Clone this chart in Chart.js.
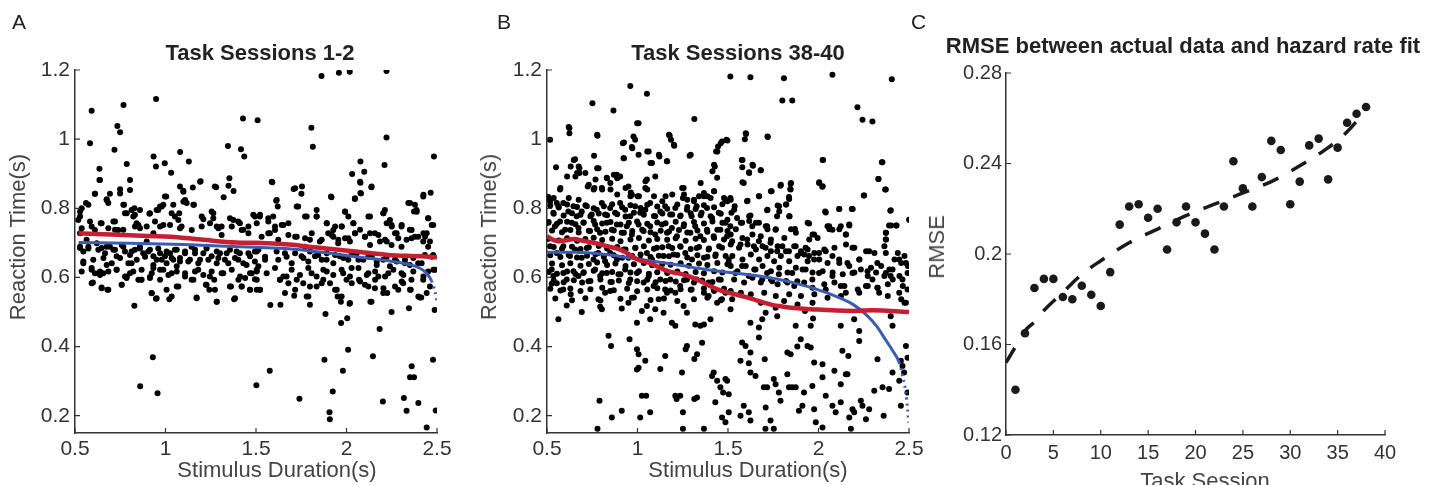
<!DOCTYPE html>
<html>
<head>
<meta charset="utf-8">
<script src="https://cdn.jsdelivr.net/npm/chart.js@4.4.0/dist/chart.umd.min.js"></script>
<style>
  html, body { margin: 0; padding: 0; background: #fff; }
  #fig { position: relative; width: 1442px; height: 485px; overflow: hidden; font-family: "Liberation Sans", Arial, sans-serif; }
  .panel { position: absolute; top: 0; height: 485px; }
  .txt { position: absolute; white-space: nowrap; line-height: 1; }
  .letter { font-size: 21px; color: #222; }
  .title { font-size: 22px; font-weight: bold; color: #222; transform: translateX(-50%); }
  .xlab { font-size: 22px; color: #444; transform: translateX(-50%); }
  .ylab { font-size: 22px; color: #444; transform: translate(-50%, -50%) rotate(-90deg); }
</style>
</head>
<body>
<div id="fig">
  <div class="panel" style="left:0;width:470px"><canvas id="chartA"></canvas></div>
  <div class="panel" style="left:470px;width:470px"><canvas id="chartB"></canvas></div>
  <div class="panel" style="left:940px;width:502px"><canvas id="chartC"></canvas></div>

  <div class="txt letter" style="left:12px;top:11px">A</div>
  <div class="txt letter" style="left:497px;top:11px">B</div>
  <div class="txt letter" style="left:911px;top:11px">C</div>

  <div class="txt title" style="left:260px;top:42px">Task Sessions 1-2</div>
  <div class="txt title" style="left:738px;top:42px">Task Sessions 38-40</div>
  <div class="txt title" style="left:1183px;top:35px">RMSE between actual data and hazard rate fit</div>

  <div class="txt ylab" style="left:18px;top:237px">Reaction Time(s)</div>
  <div class="txt ylab" style="left:489px;top:237px">Reaction Time(s)</div>
  <div class="txt ylab" style="left:937px;top:247px">RMSE</div>

  <div class="txt xlab" style="left:277px;top:459px">Stimulus Duration(s)</div>
  <div class="txt xlab" style="left:748px;top:459px">Stimulus Duration(s)</div>
  <div class="txt xlab" style="left:1205px;top:470px">Task Session</div>
</div>

<script>
// ===== tick labels =====
const xTicksAB = [0.5, 1, 1.5, 2, 2.5];
const yTicksAB = [0.2, 0.4, 0.6, 0.8, 1, 1.2];
const xTicksC = [0, 5, 10, 15, 20, 25, 30, 35, 40];
const yTicksC = [0.12, 0.16, 0.2, 0.24, 0.28];

// ===== panel A: sessions 1-2, [stimulus duration, reaction time] =====
const trialsA = [
  [0.592,1.082],[0.768,1.099],[0.734,1.038],[0.749,1.020],[0.583,0.988],[0.718,0.969],[0.948,1.116],[0.934,0.950],
  [0.947,0.921],[0.996,0.930],[1.031,0.903],[1.081,0.963],[1.129,0.935],[1.428,1.060],[1.509,1.055],[1.345,0.980],
  [1.417,0.971],[1.435,0.950],[1.806,1.033],[1.814,0.978],[1.862,1.183],[1.958,1.192],[2.018,1.195],[2.221,1.197],
  [2.221,1.005],[2.210,0.925],[2.483,0.950],[0.786,0.928],[0.635,0.914],[0.635,0.882],[0.804,0.882],[0.749,0.855],
  [1.194,0.878],[1.151,0.860],[1.098,0.851],[1.004,0.834],[1.280,0.861],[1.353,0.887],[1.348,0.865],[1.376,0.850],
  [1.321,0.832],[1.590,0.875],[1.708,0.856],[1.754,0.863],[1.751,0.842],[1.612,0.822],[2.031,0.899],[2.098,0.906],
  [2.077,0.935],[2.077,0.874],[2.077,0.844],[2.046,0.827],[2.137,0.861],[2.465,0.845],[2.424,0.834],[1.917,0.832],
  [2.351,0.815],[2.373,0.791],
  [0.828,0.518],[0.930,0.369],[0.860,0.285],[0.956,0.265],[1.502,0.288],[1.576,0.330],[1.579,0.520],[1.635,0.521],
  [1.740,0.249],[1.884,0.494],[1.878,0.362],[1.906,0.210],[1.908,0.190],[1.924,0.270],[1.970,0.468],[2.004,0.482],
  [1.980,0.330],[2.009,0.391],[2.017,0.524],[2.146,0.372],[2.183,0.451],[2.201,0.241],[2.249,0.500],[2.317,0.251],
  [2.332,0.214],[2.360,0.343],[2.351,0.311],[2.373,0.311],[2.397,0.237],[2.345,0.511],[2.413,0.542],[2.443,0.166],
  [2.478,0.362],[2.493,0.215],[2.487,0.506],[2.225,0.555],[2.138,0.530],[2.286,0.564],
  [0.528,0.791],[0.537,0.800],[0.528,0.776],[0.561,0.815],[0.610,0.842],[0.693,0.842],[0.675,0.826],[0.684,0.815],
  [0.771,0.810],[0.786,0.786],[0.813,0.795],[0.831,0.781],[0.859,0.795],[0.840,0.757],[0.859,0.742],[0.911,0.784],
  [0.960,0.795],[0.970,0.805],[0.997,0.834],[1.080,0.863],[1.108,0.824],[1.117,0.815],[1.157,0.810],[1.200,0.776],
  [1.209,0.768],[1.264,0.771],[1.255,0.791],[1.283,0.747],[1.310,0.747],[1.375,0.766],[1.411,0.757],[1.430,0.738],
  [1.458,0.747],[1.494,0.776],[1.052,0.776],[1.076,0.786],[1.080,0.742],[1.025,0.752],[0.933,0.728],[0.583,0.762],
  [0.592,0.747],[0.642,0.757],[0.712,0.762],[0.721,0.738],[0.767,0.738],[0.831,0.747],[0.970,0.747],[0.528,0.728],
  [0.564,0.709],[0.528,0.685],[0.546,0.675],[0.574,0.689],[0.620,0.699],[0.647,0.685],[0.666,0.670],[0.693,0.689],
  [0.712,0.680],[0.730,0.661],[0.758,0.694],[0.776,0.675],[0.804,0.665],[0.813,0.641],[0.831,0.680],[0.859,0.689],
  [0.877,0.670],[0.896,0.704],[0.914,0.680],[0.933,0.661],[0.951,0.651],[0.970,0.670],[0.997,0.661],[1.006,0.641],
  [1.025,0.670],[1.043,0.651],[1.062,0.680],[1.080,0.656],[1.108,0.670],[1.126,0.646],[1.144,0.689],[1.163,0.670],
  [1.191,0.651],[1.209,0.670],[1.227,0.689],[1.255,0.661],[1.283,0.641],[1.301,0.670],[1.328,0.651],[1.356,0.680],
  [1.384,0.656],[1.411,0.670],[1.430,0.641],[1.467,0.661],[1.494,0.675],[1.513,0.632],
  [0.546,0.641],[0.592,0.627],[0.610,0.612],[0.638,0.617],[0.656,0.612],[0.675,0.636],[0.599,0.585],[0.647,0.571],
  [0.679,0.564],[0.758,0.579],[0.730,0.622],[0.786,0.603],[0.804,0.612],[0.850,0.593],[0.865,0.593],[0.914,0.601],
  [0.933,0.627],[0.923,0.555],[0.947,0.538],[0.970,0.593],[1.006,0.564],[1.021,0.537],[0.988,0.622],[1.034,0.612],
  [1.071,0.574],[1.062,0.632],[1.108,0.603],[1.144,0.593],[1.172,0.542],[1.181,0.622],[1.223,0.579],[1.242,0.564],
  [1.245,0.603],[1.269,0.593],[1.283,0.530],[1.319,0.612],[1.362,0.574],[1.379,0.537],[1.403,0.593],[1.421,0.574],
  [1.440,0.598],[1.467,0.564],[1.476,0.612],[1.504,0.564],[1.494,0.595],
  [1.614,0.824],[1.521,0.776],[1.568,0.762],[1.595,0.776],[1.605,0.747],[1.651,0.752],[1.679,0.757],[1.733,0.805],
  [1.771,0.776],[1.835,0.795],[1.835,0.776],[1.891,0.757],[1.937,0.747],[1.974,0.747],[1.992,0.791],[2.010,0.776],
  [2.038,0.757],[2.130,0.776],[2.203,0.786],[2.212,0.795],[2.240,0.766],[2.249,0.752],[2.222,0.757],[2.387,0.795],
  [2.451,0.771],[2.479,0.752],[2.350,0.738],[2.304,0.747],[2.277,0.728],[2.443,0.728],
  [1.531,0.718],[1.577,0.728],[1.623,0.709],[1.679,0.723],[1.725,0.718],[1.771,0.689],[1.798,0.709],[1.853,0.704],
  [1.899,0.728],[1.927,0.718],[1.954,0.699],[1.992,0.713],[2.019,0.704],[2.047,0.728],[2.075,0.738],[2.102,0.718],
  [2.130,0.694],[2.157,0.728],[2.185,0.704],[2.222,0.704],[2.249,0.694],[2.304,0.689],[2.359,0.713],[2.396,0.718],
  [2.424,0.704],[2.451,0.689],[2.479,0.665],[1.550,0.651],[1.623,0.651],[1.660,0.670],[1.697,0.641],[1.752,0.661],
  [1.789,0.646],[1.826,0.661],[1.863,0.651],[1.891,0.670],[1.927,0.641],[1.963,0.661],[2.010,0.651],[2.056,0.670],
  [2.093,0.651],[2.139,0.661],[2.167,0.636],[2.203,0.651],[2.240,0.632],[2.277,0.646],[2.323,0.651],[2.350,0.636],
  [2.396,0.641],[2.433,0.665],[2.489,0.622],
  [1.504,0.617],[1.522,0.564],[1.632,0.593],[1.669,0.603],[1.660,0.555],[1.711,0.547],[1.725,0.593],[1.761,0.583],
  [1.789,0.545],[1.798,0.521],[1.807,0.612],[1.835,0.574],[1.872,0.593],[1.891,0.617],[1.909,0.583],[1.937,0.564],
  [1.951,0.545],[1.969,0.530],[1.982,0.612],[2.000,0.593],[2.019,0.526],[2.028,0.627],[2.069,0.593],[2.102,0.579],
  [2.121,0.612],[2.132,0.530],[2.157,0.569],[2.176,0.603],[2.203,0.555],[2.231,0.612],[2.268,0.574],[2.304,0.612],
  [2.313,0.583],[2.359,0.593],[2.355,0.564],[2.405,0.542],[2.424,0.593],[2.451,0.617],[2.443,0.555],
  // closer read of the dense band, left half
  [0.638,0.882],[0.610,0.842],[0.749,0.843],[0.804,0.853],[0.675,0.824],[0.574,0.810],[0.767,0.810],[0.828,0.800],
  [0.914,0.786],[0.951,0.795],[0.988,0.810],[0.979,0.805],[1.043,0.810],[1.099,0.848],[1.191,0.877],[1.099,0.819],
  [1.154,0.810],[1.273,0.863],[1.264,0.786],[1.246,0.757],[1.356,0.771],[1.402,0.762],[1.485,0.781],[1.504,0.757],
  [0.518,0.766],[0.647,0.757],[0.721,0.762],[0.776,0.786],[0.822,0.776],[0.850,0.752],[0.896,0.747],[0.942,0.762],
  [0.988,0.752],[1.034,0.786],[1.071,0.766],[1.089,0.747],[1.145,0.737],[1.200,0.747],[1.292,0.742],[1.310,0.723],
  [1.366,0.747],[1.421,0.737],[1.458,0.728],[0.537,0.742],[0.610,0.737],[0.684,0.742],[0.739,0.737],
  [0.528,0.689],[0.574,0.684],[0.629,0.680],[0.675,0.689],[0.721,0.680],[0.767,0.689],[0.813,0.675],[0.859,0.684],
  [0.905,0.675],[0.960,0.684],[1.006,0.675],[1.052,0.680],[1.108,0.675],[1.163,0.680],[1.227,0.684],[1.283,0.675],
  [1.338,0.670],[1.393,0.675],[1.458,0.670],[1.504,0.675],
  [0.546,0.646],[0.601,0.651],[0.657,0.656],[0.703,0.641],[0.749,0.656],[0.795,0.641],[0.841,0.651],[0.887,0.660],
  [0.933,0.636],[0.979,0.651],[1.034,0.656],[1.080,0.646],[1.135,0.651],[1.181,0.641],[1.237,0.651],[1.292,0.656],
  [1.347,0.641],[1.402,0.651],[1.448,0.636],[1.494,0.646],
  [0.537,0.617],[0.592,0.622],[0.638,0.607],[0.684,0.617],[0.730,0.622],[0.776,0.603],[0.822,0.617],[0.868,0.622],
  [0.924,0.612],[0.970,0.622],[1.016,0.607],[1.062,0.617],[1.108,0.612],[1.163,0.617],[1.209,0.607],[1.255,0.617],
  [1.310,0.612],[1.366,0.622],[1.412,0.603],[1.467,0.612],
  [0.592,0.583],[0.647,0.569],[0.684,0.564],[0.758,0.579],[0.785,0.598],[0.868,0.593],[0.914,0.598],[0.924,0.554],
  [0.951,0.540],[1.034,0.545],[1.062,0.574],[1.154,0.593],[1.172,0.540],[1.227,0.579],[1.273,0.564],[1.283,0.530],
  [1.356,0.574],[1.384,0.540],[1.421,0.574],[1.467,0.564],[1.504,0.593],
  // closer read of the dense band, right half
  [1.587,0.877],[1.716,0.858],[1.914,0.834],[2.047,0.829],[2.080,0.843],[2.075,0.877],[2.139,0.863],[2.425,0.839],
  [1.620,0.805],[1.725,0.805],[1.522,0.781],[1.568,0.771],[1.642,0.752],[1.780,0.776],[1.835,0.776],[1.891,0.757],
  [1.927,0.737],[1.992,0.790],[2.038,0.757],[1.973,0.747],[2.121,0.776],[2.130,0.728],[2.204,0.786],[2.250,0.747],
  [2.342,0.815],[2.378,0.810],[2.388,0.790],[2.452,0.771],[2.471,0.752],[2.360,0.737],[2.305,0.752],[2.268,0.728],
  [2.425,0.728],
  [1.568,0.728],[1.605,0.737],[1.716,0.718],[1.771,0.713],[1.808,0.728],[1.863,0.709],[1.918,0.723],[1.955,0.709],
  [2.010,0.713],[2.047,0.728],[2.102,0.718],[2.176,0.723],[2.213,0.709],[2.286,0.713],[2.332,0.709],[2.378,0.718],
  [2.434,0.718],[2.461,0.704],
  [1.513,0.680],[1.550,0.660],[1.614,0.675],[1.669,0.660],[1.716,0.670],[1.762,0.656],[1.798,0.675],[1.844,0.665],
  [1.890,0.651],[1.937,0.665],[1.983,0.656],[2.029,0.670],[2.066,0.651],[2.121,0.660],[2.167,0.646],[2.222,0.660],
  [2.268,0.651],[2.323,0.641],[2.369,0.656],[2.415,0.641],[2.471,0.660],
  [1.504,0.622],[1.559,0.612],[1.605,0.627],[1.651,0.603],[1.697,0.622],[1.743,0.607],[1.789,0.627],[1.835,0.603],
  [1.872,0.622],[1.927,0.607],[1.973,0.622],[2.019,0.603],[2.066,0.627],[2.112,0.607],[2.158,0.617],[2.213,0.603],
  [2.259,0.622],[2.314,0.607],[2.369,0.617],[2.425,0.603],[2.480,0.622],
  [1.522,0.564],[1.633,0.593],[1.679,0.583],[1.716,0.564],[1.780,0.545],[1.798,0.574],[1.863,0.583],[1.946,0.564],
  [1.973,0.545],[2.029,0.583],[2.075,0.588],[2.121,0.574],[2.158,0.593],[2.204,0.569],[2.305,0.588],[2.351,0.564],
  [2.397,0.545],[2.461,0.574]
];
const redA = [
  [0.52,0.728],[0.70,0.724],[0.90,0.720],[1.03,0.718],[1.21,0.709],[1.39,0.701],[1.50,0.700],
  [1.68,0.695],[1.86,0.685],[2.05,0.675],[2.23,0.665],[2.41,0.661],[2.50,0.658]
];
const blueA = [
  [0.52,0.701],[0.80,0.699],[1.10,0.695],[1.30,0.691],[1.50,0.687],[1.68,0.683],[1.86,0.673],[2.05,0.660],
  [2.23,0.648],[2.35,0.637],[2.40,0.628],[2.43,0.618],[2.45,0.607],[2.47,0.590],[2.48,0.575],[2.49,0.558],[2.50,0.530]
];

// ===== panel B: sessions 38-40 =====
const trialsB = [
  [0.517,0.998],[0.624,1.032],[0.624,1.017],[0.751,1.104],[0.867,1.083],[0.960,1.154],[1.052,1.131],[1.006,1.046],
  [0.978,1.008],[0.987,0.998],[0.779,1.010],[0.550,0.919],[0.655,0.942],[0.631,0.921],[0.679,0.916],[0.760,0.952],
  [0.785,0.916],[0.919,0.988],[0.969,0.977],[0.923,0.945],[1.006,0.955],[1.062,0.964],[1.080,0.931],[1.178,1.010],
  [1.185,0.998],[1.203,0.981],[1.121,0.950],[1.162,0.936],[1.288,0.952],[1.314,1.058],[1.434,0.964],[1.445,0.979],
  [1.467,0.993],[1.491,0.998],[1.427,0.921],[1.440,0.888],[1.513,1.181],[0.572,0.854],[0.507,0.833],[0.554,0.815],
  [0.679,0.902],[0.657,0.892],[0.725,0.863],[0.762,0.859],[0.803,0.859],[0.830,0.888],[0.886,0.897],[0.904,0.892],
  [0.850,0.873],[0.950,0.863],[0.969,0.839],[0.963,0.846],[1.052,0.883],[1.098,0.892],[1.043,0.859],[1.001,0.835],
  [1.255,0.859],[1.251,0.830],[1.312,0.825],[1.340,0.835],[1.367,0.844],[1.386,0.835],[1.423,0.849],[1.486,0.825],
  [1.513,0.830],
  [0.517,0.820],[0.535,0.787],[0.563,0.806],[0.590,0.815],[0.618,0.791],[0.646,0.806],[0.664,0.777],[0.692,0.791],
  [0.720,0.806],[0.747,0.782],[0.775,0.796],[0.803,0.815],[0.821,0.782],[0.849,0.801],[0.876,0.787],[0.904,0.815],
  [0.932,0.796],[0.960,0.777],[0.987,0.806],[1.015,0.787],[1.043,0.796],[1.070,0.815],[1.098,0.777],[1.126,0.791],
  [1.153,0.806],[1.181,0.782],[1.209,0.801],[1.236,0.777],[1.273,0.796],[1.299,0.777],[1.327,0.806],[1.354,0.787],
  [1.384,0.801],[1.412,0.772],[1.449,0.787],[1.486,0.758],
  [0.507,0.758],[0.544,0.748],[0.572,0.762],[0.600,0.738],[0.637,0.758],[0.674,0.743],[0.701,0.758],[0.738,0.734],
  [0.766,0.753],[0.793,0.729],[0.830,0.758],[0.858,0.738],[0.886,0.753],[0.913,0.729],[0.941,0.748],[0.969,0.724],
  [1.006,0.753],[1.034,0.734],[1.070,0.748],[1.098,0.724],[1.135,0.753],[1.163,0.729],[1.190,0.743],[1.218,0.719],
  [1.255,0.748],[1.292,0.729],[1.319,0.748],[1.347,0.719],[1.384,0.738],[1.421,0.719],[1.458,0.738],[1.495,0.719],
  [0.517,0.690],[0.554,0.671],[0.590,0.690],[0.627,0.662],[0.655,0.681],[0.692,0.657],[0.720,0.685],[0.757,0.652],
  [0.784,0.671],[0.821,0.647],[0.849,0.671],[0.886,0.652],[0.923,0.681],[0.950,0.657],[0.987,0.685],[1.015,0.652],
  [1.052,0.671],[1.080,0.652],[1.107,0.686],[1.144,0.662],[1.172,0.690],[1.199,0.666],[1.236,0.690],[1.264,0.671],
  [1.301,0.652],[1.327,0.685],[1.367,0.657],[1.393,0.681],[1.430,0.662],[1.467,0.686],[1.504,0.652],
  [0.526,0.623],[0.535,0.604],[0.554,0.583],[0.590,0.613],[0.609,0.594],[0.646,0.618],[0.674,0.604],[0.701,0.613],
  [0.729,0.589],[0.766,0.623],[0.794,0.604],[0.830,0.613],[0.858,0.587],[0.895,0.609],[0.932,0.623],[0.960,0.594],
  [0.997,0.613],[1.034,0.585],[1.062,0.604],[1.089,0.575],[1.126,0.594],[1.153,0.565],[1.181,0.594],[1.209,0.556],
  [1.236,0.575],[1.273,0.594],[1.299,0.565],[1.327,0.594],[1.367,0.556],[1.393,0.585],[1.421,0.565],[1.449,0.594],
  [1.486,0.556],
  [0.526,0.582],[0.590,0.565],[0.631,0.551],[0.609,0.519],[0.563,0.479],[0.692,0.500],[0.784,0.537],[0.803,0.508],
  [0.794,0.515],[0.821,0.556],[0.849,0.561],[0.913,0.510],[0.950,0.527],[0.969,0.541],[0.997,0.469],[1.024,0.503],
  [1.052,0.517],[1.070,0.479],[1.098,0.508],[1.117,0.537],[1.144,0.498],[1.163,0.556],[1.190,0.469],[1.209,0.460],
  [1.255,0.517],[1.273,0.498],[1.319,0.464],[1.347,0.460],[1.367,0.464],[1.393,0.546],[1.403,0.479],[1.440,0.527],
  [1.467,0.537],
  [0.840,0.431],[0.854,0.402],[0.956,0.421],[0.997,0.392],[1.006,0.378],[1.043,0.359],[1.006,0.339],[0.997,0.334],
  [1.024,0.258],[1.048,0.258],[1.070,0.210],[0.790,0.243],[0.779,0.162],[0.913,0.214],[0.858,0.195],[1.015,0.195],
  [1.126,0.335],[1.153,0.373],[1.209,0.258],[1.216,0.248],[1.246,0.325],[1.251,0.210],[1.251,0.162],[1.273,0.402],
  [1.266,0.392],[1.314,0.364],[1.329,0.378],[1.357,0.411],[1.367,0.162],[1.314,0.248],[1.329,0.253],[1.412,0.315],
  [1.421,0.325],[1.440,0.301],[1.458,0.282],[1.430,0.239],[1.473,0.267],[1.486,0.306],[1.467,0.195],[1.486,0.181],
  [1.504,0.210],[1.236,0.258],
  [1.624,1.179],[1.809,1.176],[2.077,1.186],[2.405,1.173],[1.800,1.112],[1.855,1.112],[2.215,1.092],[2.243,1.056],
  [2.298,1.051],[1.600,1.015],[1.593,1.000],[1.720,1.006],[1.576,0.940],[1.579,0.919],[1.616,0.904],[1.638,0.923],
  [1.681,0.910],[1.587,0.873],[2.025,0.940],[2.353,0.933],[2.331,0.885],[2.372,0.854],[2.252,0.837],[2.003,0.873],
  [2.021,0.862],[1.790,0.865],[1.846,0.871],[1.846,0.854],[1.837,0.833],[1.822,0.811],[1.782,0.806],[1.741,0.849],
  [1.671,0.835],[1.605,0.820],[1.537,0.806],[1.519,0.787],[1.550,0.772],[1.624,0.779],[1.716,0.794],[1.771,0.777],
  [1.840,0.777],[2.040,0.788],[2.114,0.798],[2.184,0.798],[2.399,0.794],[2.501,0.767],
  [1.513,0.748],[1.578,0.758],[1.634,0.748],[1.671,0.758],[1.716,0.748],[1.763,0.738],[1.870,0.740],[1.948,0.756],
  [1.976,0.724],[2.059,0.748],[2.077,0.738],[2.123,0.748],[2.170,0.753],[2.151,0.724],[2.372,0.729],[2.390,0.750],
  [2.431,0.750],[2.372,0.710],
  [1.523,0.705],[1.569,0.695],[1.606,0.710],[1.643,0.690],[1.671,0.705],[1.708,0.686],[1.735,0.700],[1.772,0.676],
  [1.800,0.690],[1.837,0.676],[1.874,0.690],[1.902,0.671],[1.929,0.686],[1.948,0.662],[1.976,0.652],[2.003,0.671],
  [2.040,0.676],[2.077,0.662],[2.114,0.652],[2.160,0.642],[2.188,0.686],[2.225,0.652],[2.280,0.676],[2.234,0.623],
  [2.271,0.618],[2.298,0.594],[2.325,0.642],[2.372,0.671],[2.409,0.623],[2.446,0.652],[2.483,0.642],[2.492,0.613],
  [2.492,0.565],[2.464,0.594],[2.399,0.604],[2.372,0.613],
  [1.504,0.642],[1.541,0.613],[1.578,0.633],[1.615,0.604],[1.652,0.623],[1.689,0.594],[1.716,0.613],[1.744,0.589],
  [1.781,0.609],[1.828,0.585],[1.855,0.613],[1.883,0.589],[1.929,0.623],[1.966,0.594],[2.003,0.613],[2.040,0.565],
  [2.077,0.604],[2.123,0.575],[2.151,0.556],[2.188,0.613],[2.225,0.556],[2.262,0.575],[2.325,0.570],[2.335,0.556],
  [2.446,0.556],[2.483,0.527],
  [1.523,0.537],[1.514,0.508],[1.624,0.469],[1.671,0.455],[1.689,0.479],[1.708,0.498],[1.763,0.512],[1.772,0.488],
  [1.671,0.426],[1.578,0.412],[1.597,0.402],[1.624,0.383],[1.569,0.359],[1.615,0.352],[1.703,0.363],[1.828,0.383],
  [1.846,0.378],[1.883,0.400],[1.902,0.421],[1.939,0.402],[1.874,0.460],[1.925,0.503],[1.957,0.460],[1.970,0.481],
  [1.957,0.397],[1.976,0.354],[2.022,0.349],[2.123,0.460],[2.132,0.388],[2.165,0.373],[2.151,0.320],[2.197,0.479],
  [2.225,0.445],[2.225,0.416],[2.326,0.363],[2.399,0.488],[2.409,0.460],[2.483,0.402],[2.492,0.368],[2.455,0.359],
  [2.464,0.344],
  [1.495,0.301],[1.504,0.262],[1.587,0.229],[1.615,0.210],[1.569,0.200],[1.624,0.186],[1.624,0.325],[1.652,0.315],
  [1.698,0.282],[1.716,0.282],[1.708,0.224],[1.735,0.186],[1.753,0.306],[1.763,0.291],[1.781,0.267],[1.790,0.243],
  [1.828,0.320],[1.837,0.282],[1.855,0.282],[1.874,0.282],[1.892,0.214],[1.920,0.267],[1.966,0.286],[1.976,0.219],
  [1.985,0.181],[2.022,0.166],[2.022,0.311],[2.040,0.258],[2.077,0.229],[2.095,0.210],[2.088,0.330],[2.123,0.239],
  [2.123,0.291],[2.160,0.320],[2.170,0.195],[2.188,0.219],[2.197,0.210],[2.234,0.243],[2.243,0.229],[2.262,0.190],
  [2.280,0.219],[2.308,0.272],[2.354,0.282],[2.360,0.200],[2.390,0.277],[2.409,0.325],[2.446,0.301],[2.455,0.229],
  [2.492,0.267],[2.473,0.325],[1.911,0.229],[2.179,0.162],[1.753,0.162],[1.707,0.162],
  // closer read of the dense cloud, left half
  [0.620,1.035],[0.777,1.013],[0.998,1.046],[1.174,1.013],[0.925,0.990],[1.201,0.984],[0.971,0.974],[1.054,0.964],
  [1.118,0.955],[1.294,0.955],[1.460,0.988],[1.441,0.964],[1.423,0.926],[1.414,0.907],[0.925,0.945],[1.072,0.931],
  [1.164,0.936],[0.648,0.940],[0.675,0.921],[0.666,0.902],[0.712,0.902],[0.777,0.916],[0.869,0.897],[0.888,0.887],
  [0.832,0.887],[0.768,0.883],[0.611,0.892],[0.574,0.859],[0.537,0.830],[0.620,0.830],[0.675,0.825],[0.731,0.868],
  [0.758,0.854],[0.805,0.854],[0.851,0.854],[0.888,0.840],[0.934,0.859],[0.961,0.835],[1.008,0.835],[1.044,0.878],
  [1.054,0.854],[1.091,0.835],[1.137,0.820],[1.155,0.835],[1.192,0.840],[1.247,0.859],[1.257,0.840],[1.275,0.825],
  [1.312,0.820],[1.349,0.873],[1.367,0.835],[1.404,0.830],[1.423,0.849],[1.478,0.830],[1.497,0.820],
  [0.518,0.808],[0.565,0.802],[0.611,0.811],[0.666,0.804],[0.712,0.809],[0.758,0.800],[0.814,0.806],[0.860,0.812],
  [0.915,0.803],[0.961,0.809],[1.017,0.801],[1.054,0.810],[1.109,0.805],[1.164,0.799],[1.220,0.811],[1.275,0.804],
  [1.321,0.798],[1.367,0.809],[1.423,0.803],[1.469,0.812],
  [0.537,0.784],[0.592,0.779],[0.638,0.786],[0.685,0.781],[0.740,0.777],[0.786,0.785],[0.832,0.780],[0.888,0.783],
  [0.934,0.776],[0.980,0.787],[1.035,0.781],[1.091,0.778],[1.137,0.785],[1.192,0.782],[1.238,0.779],[1.294,0.786],
  [1.349,0.780],[1.404,0.777],[1.460,0.784],
  [0.509,0.760],[0.555,0.755],[0.611,0.761],[0.657,0.754],[0.703,0.759],[0.758,0.763],[0.805,0.756],[0.851,0.760],
  [0.906,0.753],[0.952,0.758],[0.998,0.762],[1.054,0.755],[1.109,0.759],[1.155,0.757],[1.211,0.761],[1.257,0.754],
  [1.312,0.760],[1.367,0.756],[1.414,0.762],[1.469,0.758],
  [0.528,0.736],[0.583,0.731],[0.629,0.737],[0.675,0.730],[0.731,0.735],[0.777,0.739],[0.823,0.732],[0.869,0.736],
  [0.925,0.729],[0.971,0.734],[1.026,0.738],[1.072,0.731],[1.128,0.735],[1.174,0.733],[1.229,0.737],[1.275,0.730],
  [1.331,0.736],[1.386,0.732],[1.441,0.738],[1.497,0.734],
  [0.509,0.712],[0.565,0.707],[0.611,0.713],[0.666,0.706],[0.712,0.711],[0.758,0.715],[0.805,0.708],[0.860,0.712],
  [0.906,0.705],[0.961,0.710],[1.008,0.714],[1.063,0.707],[1.109,0.711],[1.164,0.709],[1.211,0.713],[1.266,0.706],
  [1.321,0.712],[1.367,0.708],[1.423,0.714],[1.478,0.710],
  [0.537,0.688],[0.583,0.683],[0.638,0.689],[0.685,0.682],[0.731,0.687],[0.786,0.691],[0.832,0.684],[0.888,0.688],
  [0.934,0.681],[0.989,0.686],[1.035,0.690],[1.091,0.683],[1.137,0.687],[1.192,0.685],[1.238,0.689],[1.294,0.682],
  [1.340,0.688],[1.395,0.684],[1.451,0.690],
  [0.518,0.664],[0.574,0.659],[0.620,0.665],[0.666,0.658],[0.721,0.663],[0.768,0.667],[0.814,0.660],[0.869,0.664],
  [0.915,0.657],[0.971,0.662],[1.017,0.666],[1.072,0.659],[1.118,0.663],[1.174,0.661],[1.220,0.665],[1.275,0.658],
  [1.331,0.664],[1.386,0.660],[1.432,0.666],[1.487,0.662],
  [0.528,0.640],[0.583,0.635],[0.629,0.641],[0.685,0.634],[0.731,0.639],[0.777,0.643],[0.832,0.636],[0.878,0.640],
  [0.934,0.633],[0.980,0.638],[1.035,0.642],[1.081,0.635],[1.137,0.639],[1.183,0.637],[1.238,0.641],[1.284,0.634],
  [1.340,0.640],[1.386,0.636],[1.441,0.642],[1.497,0.638],
  [0.509,0.616],[0.555,0.611],[0.611,0.617],[0.657,0.610],[0.703,0.615],[0.758,0.619],[0.805,0.612],[0.860,0.616],
  [0.906,0.609],[0.961,0.614],[1.008,0.618],[1.063,0.611],[1.109,0.615],[1.164,0.613],[1.220,0.617],[1.266,0.610],
  [1.321,0.616],[1.367,0.612],[1.423,0.618],[1.469,0.614],
  [0.537,0.591],[0.592,0.586],[0.648,0.592],[0.694,0.585],[0.740,0.590],[0.795,0.594],[0.851,0.587],[0.897,0.591],
  [0.952,0.584],[0.998,0.589],[1.054,0.593],[1.100,0.586],[1.155,0.590],[1.211,0.588],[1.257,0.592],[1.312,0.585],
  [1.358,0.591],[1.414,0.587],[1.460,0.593],
  [0.518,0.567],[0.574,0.562],[0.629,0.568],[0.685,0.561],[0.740,0.566],[0.805,0.570],[0.869,0.563],[0.943,0.567],
  [0.998,0.560],[1.054,0.565],[1.109,0.569],[1.183,0.562],[1.238,0.566],[1.294,0.564],[1.367,0.568],[1.423,0.561],
  [1.478,0.567],
  [0.546,0.539],[0.638,0.534],[0.712,0.540],[0.795,0.533],[0.906,0.538],[0.980,0.542],[1.072,0.535],[1.146,0.539],
  [1.220,0.532],[1.312,0.537],[1.386,0.541],[1.460,0.534],
  // closer read of the dense cloud, right half
  [1.598,1.017],[1.718,1.008],[1.497,0.996],[1.580,0.940],[1.635,0.926],[1.617,0.902],[1.681,0.910],[2.023,0.940],
  [2.350,0.933],[2.331,0.885],[2.368,0.854],[2.250,0.837],[2.004,0.875],[2.023,0.864],[1.792,0.868],[1.848,0.873],
  [1.844,0.856],[1.580,0.875],[1.737,0.849],[1.838,0.827],[1.820,0.811],[1.774,0.808],[1.672,0.835],[1.608,0.822],
  [1.515,0.825],[1.534,0.796],[1.718,0.796],[1.783,0.791],[1.838,0.777],[2.037,0.791],[2.115,0.798],[2.189,0.798],
  [2.397,0.793],[2.503,0.767],[1.497,0.767],[1.571,0.758],[1.617,0.777],[1.617,0.763],[1.654,0.758],[1.709,0.748],
  [1.718,0.739],[1.764,0.739],[1.848,0.739],[1.875,0.729],[1.940,0.758],[1.967,0.724],[2.050,0.748],[2.060,0.739],
  [2.115,0.739],[2.152,0.724],[2.170,0.750],[2.401,0.750],[2.429,0.750],[2.373,0.729],[2.373,0.710],[2.364,0.690],
  [1.515,0.724],[1.543,0.739],[1.580,0.714],[1.635,0.724],[1.681,0.719],[1.737,0.710],[1.811,0.714],[1.995,0.714],
  [1.949,0.710],
  [1.515,0.695],[1.561,0.686],[1.608,0.695],[1.654,0.681],[1.691,0.690],[1.737,0.676],[1.774,0.690],[1.820,0.676],
  [1.866,0.690],[1.903,0.676],[1.940,0.681],[1.977,0.671],[2.032,0.681],[2.088,0.686],[2.152,0.695],[2.198,0.686],
  [2.263,0.676],[2.309,0.671],[2.438,0.671],[2.475,0.662],
  [1.524,0.662],[1.580,0.652],[1.626,0.666],[1.672,0.652],[1.718,0.662],[1.755,0.647],[1.792,0.662],[1.838,0.647],
  [1.884,0.662],[1.921,0.666],[1.940,0.647],[2.004,0.652],[2.050,0.642],[2.115,0.642],[2.170,0.633],[2.226,0.652],
  [2.290,0.628],[2.346,0.633],[2.392,0.623],[2.420,0.652],[2.457,0.642],[2.494,0.633],
  [1.515,0.633],[1.552,0.618],[1.598,0.633],[1.645,0.623],[1.691,0.633],[1.737,0.618],[1.783,0.628],[1.829,0.614],
  [1.875,0.628],[1.912,0.623],[1.967,0.614],[2.023,0.618],[2.078,0.614],[2.134,0.609],[2.198,0.614],[2.272,0.604],
  [2.318,0.614],[2.364,0.604],[2.410,0.594],[2.447,0.604],
  [1.534,0.594],[1.589,0.585],[1.635,0.599],[1.681,0.585],[1.737,0.594],[1.774,0.580],[1.820,0.590],[1.866,0.575],
  [1.921,0.585],[1.967,0.570],[2.032,0.580],[2.088,0.585],[2.143,0.575],[2.217,0.565],[2.272,0.575],[2.327,0.570],
  [2.383,0.580],[2.466,0.575],
  [1.515,0.561],[1.571,0.556],[1.626,0.551],[1.700,0.556],[1.764,0.546],[1.838,0.551],[1.903,0.546],[1.977,0.551],
  [2.050,0.541],[2.124,0.546],[2.383,0.546],[2.457,0.537],[2.475,0.527],[1.810,0.532],[1.884,0.522],[1.681,0.527],
  [1.967,0.527]
];
const redB = [
  [0.50,0.719],[0.55,0.706],[0.60,0.707],[0.65,0.711],[0.70,0.706],[0.75,0.701],[0.80,0.695],[0.85,0.688],
  [0.90,0.681],[0.95,0.668],[1.00,0.652],[1.05,0.645],[1.10,0.634],[1.15,0.622],[1.20,0.614],[1.25,0.609],
  [1.30,0.600],[1.35,0.589],[1.40,0.575],[1.45,0.564],[1.50,0.556],[1.55,0.550],[1.60,0.543],[1.65,0.535],
  [1.70,0.527],[1.75,0.520],[1.80,0.516],[1.85,0.512],[1.90,0.510],[1.95,0.508],[2.00,0.507],[2.10,0.504],
  [2.20,0.503],[2.30,0.505],[2.40,0.503],[2.50,0.500]
];
const blueB = [
  [0.50,0.673],[0.65,0.673],[0.83,0.666],[1.00,0.653],[1.20,0.638],[1.38,0.623],[1.50,0.615],[1.67,0.604],
  [1.86,0.585],[2.04,0.557],[2.12,0.540],[2.19,0.522],[2.26,0.494],[2.32,0.460],[2.37,0.420],[2.41,0.388],
  [2.446,0.354],[2.464,0.315],[2.483,0.267],[2.492,0.219],[2.498,0.180]
];

// ===== panel C: RMSE per task session =====
const sessions = [1,2,3,4,5,6,7,8,9,10,11,12,13,14,15,16,17,18,19,20,21,22,23,24,25,26,27,28,29,30,31,32,33,34,35,36,37,38];
const rmse = [
  0.140,0.165,0.185,0.189,0.189,0.181,0.180,0.186,0.182,0.177,0.192,0.213,0.221,0.222,0.216,0.220,0.202,0.214,
  0.221,0.214,0.209,0.202,0.221,0.241,0.229,0.221,0.234,0.250,0.246,0.222,0.232,0.248,0.251,0.233,0.247,0.258,
  0.262,0.265
];
const fitX = [0, 1, 2, 3, 4, 6, 8, 10, 13, 16, 19, 22, 25, 28, 31, 34, 36, 37.5];
const fitY = [0.152, 0.159, 0.166, 0.170, 0.175, 0.183, 0.191, 0.197, 0.205, 0.211, 0.217, 0.222, 0.227, 0.232, 0.239, 0.247, 0.254, 0.261];

// ===== helper =====
const axisColor = "#333";
const tickFamily = "'Liberation Sans', Arial, sans-serif";

const innerTicks = {
  id: "innerTicks",
  afterDatasetsDraw(chart) {
    const { ctx, chartArea: a, scales: { x, y } } = chart;
    ctx.save();
    ctx.strokeStyle = axisColor;
    ctx.lineWidth = 1.2;
    ctx.beginPath();
    x.ticks.forEach(t => {
      const px = x.getPixelForValue(t.value);
      ctx.moveTo(px, a.bottom);
      ctx.lineTo(px, a.bottom - 5);
    });
    y.ticks.forEach(t => {
      const py = y.getPixelForValue(t.value);
      ctx.moveTo(a.left, py);
      ctx.lineTo(a.left + 5, py);
    });
    ctx.stroke();
    ctx.restore();
  }
};

function makeAxis(min, max, ticks, size, isX, fontSize, pad) {
  return {
    type: "linear",
    min: min,
    max: max,
    afterBuildTicks: s => { s.ticks = ticks.map(v => ({ value: v })); },
    afterFit: s => { if (isX) s.height = size; else s.width = size; },
    grid: { display: false, drawTicks: false, tickLength: 0 },
    border: { display: true, color: axisColor, width: 1.5 },
    ticks: {
      color: axisColor,
      padding: pad,
      font: { family: tickFamily, size: fontSize },
      callback: v => String(v)
    }
  };
}

function toPts(arr) {
  return arr.map(p => ({ x: p[0], y: p[1] }));
}

function rtChart(canvasId, trials, red, blue, yW, padRight, dashFrom) {
  return new Chart(document.getElementById(canvasId), {
    type: "scatter",
    data: {
      datasets: [
        {
          label: "mean", data: toPts(red), showLine: true, order: 0,
          borderColor: "#c81e32", borderWidth: 4.5, pointRadius: 0,
          cubicInterpolationMode: "monotone", fill: false
        },
        {
          label: "hazard fit", data: toPts(blue), showLine: true, order: 1,
          borderColor: "#3a5cb5", borderWidth: 3, pointRadius: 0,
          cubicInterpolationMode: "monotone", fill: false,
          segment: { borderDash: c => c.p0.parsed.x >= dashFrom ? [2, 4] : undefined }
        },
        {
          label: "trials", data: toPts(trials), order: 2,
          backgroundColor: "#000", borderWidth: 0, pointRadius: 3, pointHoverRadius: 3
        }
      ]
    },
    options: {
      responsive: true,
      maintainAspectRatio: false,
      animation: false,
      layout: { padding: { top: 70, right: padRight, left: 0, bottom: 0 } },
      plugins: { legend: { display: false }, tooltip: { enabled: false } },
      scales: {
        x: makeAxis(0.5, 2.5, xTicksAB, 52, true, 21, 4),
        y: makeAxis(0.15, 1.2, yTicksAB, yW, false, 21, 5)
      }
    },
    plugins: [innerTicks]
  });
}

// ===== main =====
rtChart("chartA", trialsA, redA, blueA, 75, 33, 2.46);
rtChart("chartB", trialsB, redB, blueB, 77, 31, 2.43);

new Chart(document.getElementById("chartC"), {
  type: "scatter",
  data: {
    datasets: [
      {
        label: "fit", data: fitX.map((x, i) => ({ x: x, y: fitY[i] })), showLine: true, order: 0,
        borderColor: "#1a1a1a", borderWidth: 3.5, borderDash: [17, 15], pointRadius: 0,
        cubicInterpolationMode: "monotone", fill: false
      },
      {
        label: "RMSE", data: sessions.map((s, i) => ({ x: s, y: rmse[i] })), order: 1,
        backgroundColor: "#1a1a1a", borderWidth: 0, pointRadius: 4.3, pointHoverRadius: 4.3
      }
    ]
  },
  options: {
    responsive: true,
    maintainAspectRatio: false,
    animation: false,
    layout: { padding: { top: 73, right: 57, left: 0, bottom: 0 } },
    plugins: { legend: { display: false }, tooltip: { enabled: false } },
    scales: {
      x: makeAxis(0, 40, xTicksC, 50, true, 20, 6),
      y: makeAxis(0.12, 0.28, yTicksC, 66, false, 20, 4)
    }
  },
  plugins: [innerTicks]
});
</script>
</body>
</html>
